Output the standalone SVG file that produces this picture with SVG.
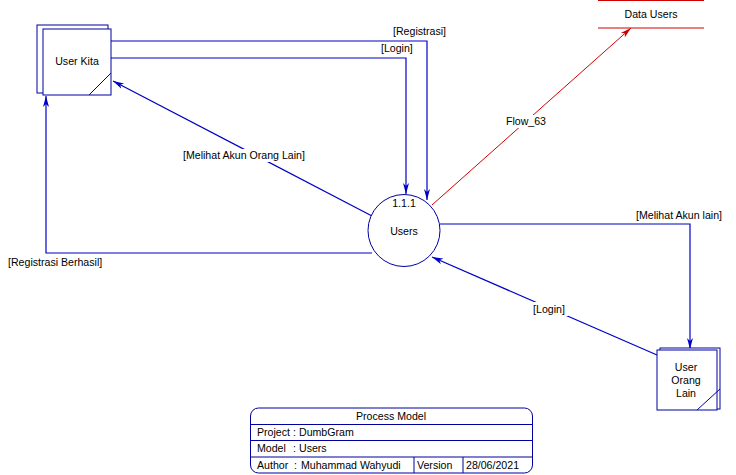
<svg xmlns="http://www.w3.org/2000/svg" width="736" height="475" viewBox="0 0 736 475">
<style>
text{font-family:"Liberation Sans",Arial,sans-serif;font-size:10.6px;fill:#000}
.n{fill:#fff;stroke:#0000a0;stroke-width:1}
.f{fill:none;stroke:#0000c8;stroke-width:1.2}
.r{fill:none;stroke:#d00000;stroke-width:1}
.bg{fill:#fff}
.t{fill:none;stroke:#0000a0;stroke-width:1}
</style>
<defs>
<marker id="ab" markerWidth="12" markerHeight="8" refX="11" refY="4" orient="auto" markerUnits="userSpaceOnUse">
<path d="M0,1 L11,4 L0,7 L3,4 Z" fill="#0000c8"/>
</marker>
<marker id="ar" markerWidth="12" markerHeight="8" refX="11" refY="4" orient="auto" markerUnits="userSpaceOnUse">
<path d="M0,1 L11,4 L0,7 L3,4 Z" fill="#d00000"/>
</marker>
</defs>
<rect width="736" height="475" fill="#fff"/>
<g id="connectors">
<polyline class="f" points="111,41 427,41 427,200" marker-end="url(#ab)"/>
<polyline class="f" points="111,58 406,58 406,194" marker-end="url(#ab)"/>
<line class="f" x1="372" y1="216" x2="113" y2="81" marker-end="url(#ab)"/>
<polyline class="f" points="372,253 46,253 46,96" marker-end="url(#ab)"/>
<polyline class="f" points="440,224 690,224 690,349" marker-end="url(#ab)"/>
<line class="f" x1="657" y1="355" x2="432" y2="257" marker-end="url(#ab)"/>
<line class="r" x1="432" y1="205" x2="631" y2="28" marker-end="url(#ar)"/>
<rect class="bg" x="181" y="149" width="128" height="13"/>
<text x="183" y="159">[Melihat Akun Orang Lain]</text>
<text x="393" y="35">[Registrasi]</text>
<text x="381" y="52">[Login]</text>
<text x="8" y="266">[Registrasi Berhasil]</text>
<text x="636" y="219">[Melihat Akun lain]</text>
<rect class="bg" x="530" y="302" width="38" height="14"/>
<text x="549" y="313" text-anchor="middle">[Login]</text>
<rect class="bg" x="504" y="115" width="44" height="13"/>
<text x="526" y="125" text-anchor="middle">Flow_63</text>
</g>
<g id="user-kita">
<rect class="n" x="37" y="25" width="71" height="68"/>
<rect class="n" x="43" y="29" width="68" height="66"/>
<line class="t" x1="111" y1="73" x2="89" y2="95"/>
<text x="77" y="65" text-anchor="middle">User Kita</text>
</g>
<g id="users">
<circle class="n" cx="404" cy="230.5" r="36"/>
<text x="404" y="207" text-anchor="middle">1.1.1</text>
<text x="404" y="235" text-anchor="middle">Users</text>
</g>
<g id="user-orang-lain">
<rect class="n" x="660" y="348" width="60" height="61"/>
<rect class="n" x="657" y="350" width="60" height="60"/>
<line class="t" x1="720" y1="389" x2="697" y2="410"/>
<text x="686" y="371" text-anchor="middle">User</text>
<text x="686" y="384" text-anchor="middle">Orang</text>
<text x="686" y="397" text-anchor="middle">Lain</text>
</g>
<g id="data-users">
<line class="r" x1="598" y1="0.5" x2="704" y2="0.5"/>
<line class="r" x1="598" y1="28" x2="704" y2="28"/>
<text x="651" y="18" text-anchor="middle">Data Users</text>
</g>
<g id="process-model">
<rect x="250.5" y="408" width="282" height="65" rx="8" ry="8" fill="#fff" stroke="#0000a0"/>
<line class="t" x1="250.5" y1="424.5" x2="532.5" y2="424.5"/>
<line class="t" x1="250.5" y1="440.5" x2="532.5" y2="440.5"/>
<line class="t" x1="250.5" y1="457" x2="532.5" y2="457"/>
<line class="t" x1="414" y1="457" x2="414" y2="473"/>
<line class="t" x1="463" y1="457" x2="463" y2="473"/>
<text x="391" y="420" text-anchor="middle">Process Model</text>
<text x="257" y="436">Project</text><text x="293" y="436">:</text><text x="299" y="436">DumbGram</text>
<text x="257" y="452">Model</text><text x="293" y="452">:</text><text x="299" y="452">Users</text>
<text x="257" y="469">Author</text><text x="294" y="469">:</text><text x="301" y="469">Muhammad Wahyudi</text>
<text x="417" y="469">Version</text>
<text x="466" y="469">28/06/2021</text>
</g>
</svg>
